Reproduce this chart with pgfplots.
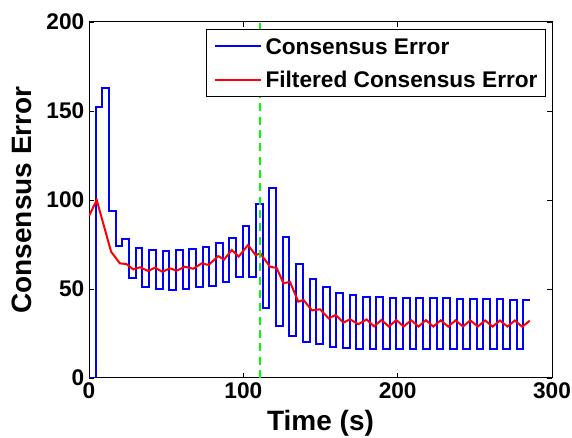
\documentclass[border=0pt]{standalone}
\usepackage{fontspec}
\setmainfont{Liberation Sans}
\usepackage{pgfplots}
\pgfplotsset{compat=1.18}
\definecolor{mblue}{RGB}{0,0,255}
\definecolor{mred}{RGB}{255,0,0}
\definecolor{mgreen}{RGB}{0,255,0}

\begin{document}
\begin{tikzpicture}
\begin{axis}[
  name=ax,
  scale only axis, width=347.25pt, height=267pt,
  xmin=0, xmax=300, ymin=0, ymax=200,
  xtick={0,100,200,300}, ytick={0,50,...,200},
  xtick pos=both, ytick pos=both,
  tick align=inside, major tick length=4pt,
  tick style={black, line width=0.6pt},
  axis line style={black, line width=0.75pt},
  /pgf/number format/assume math mode=true,
  ticklabel style={font=\fontsize{17}{17}\selectfont\bfseries},
  xlabel={Time (s)}, ylabel={Consensus Error},
  xlabel style={font=\fontsize{21}{21}\selectfont\bfseries, at={(axis description cs:0.5,-0.09)}, anchor=north, inner sep=0pt},
  ylabel style={font=\fontsize{21}{21}\selectfont\bfseries, at={(axis description cs:-0.1447,0.5)}, anchor=center, inner sep=0pt},
  legend style={at={(rel axis cs:0.987,0.98)}, anchor=north east,
    draw=black, line width=0.6pt, fill=white,
    inner xsep=6pt, inner ysep=3.5pt, row sep=6.8pt, column sep=3pt,
    font=\fontsize{17}{17}\selectfont\bfseries,
    nodes={inner xsep=0pt, inner ysep=3pt, text height=12.2pt, text depth=0pt},
    cells={anchor=west}},
  legend image code/.code={\draw[#1] (0pt,0pt) -- (34pt,0pt);},
]
% consensus error, one value per step of about 4.33 s
\addplot[const plot, mblue, line width=1.5pt] coordinates {
  (0,0)(4.33,152)(8.66,163)(12.99,94)(17.32,74)(21.65,78)(25.98,56)(30.31,73)
  (34.64,51)(38.97,72)(43.30,50)(47.63,71.5)(51.96,49.5)(56.29,72)(60.62,50)
  (64.95,72.3)(69.28,51)(73.61,73.4)(77.94,51.7)(82.27,75.7)(86.60,54)
  (90.93,78.8)(95.26,57)(99.59,85.5)(103.92,57)(108.25,97.7)(112.58,39.5)
  (116.91,107)(121.24,29.2)(125.57,79.4)(129.90,23.8)(134.23,64.2)(138.56,20.4)
  (142.89,55.6)(147.22,18.9)(151.55,51.1)(155.88,17.6)(160.21,47.9)(164.54,16.7)
  (168.87,46.6)(173.20,16.3)(177.53,45.7)(181.86,16.3)(186.19,45.5)(190.52,16.3)
  (194.85,45.2)(199.18,16.3)(203.51,45)(207.84,16.3)(212.17,45)(216.50,16.3)
  (220.83,44.8)(225.16,16.3)(229.49,44.8)(233.82,16.3)(238.15,44.6)(242.48,16.3)
  (246.81,44.5)(251.14,16.3)(255.47,44.3)(259.80,16.3)(264.13,44.2)(268.46,16.3)
  (272.79,44)(277.12,16.3)(281.45,44)(285.78,44)
};
\addlegendentry{Consensus Error}
% filtered consensus error
\addplot[mred, line width=1.5pt] coordinates {
  (0,91)(5,100)(14.3,71)(20,64.4)(24.3,64)(28.7,61)(33,62.2)(38.4,60.1)
  (42.7,62)(47.5,59.7)(52.5,61.6)(56.8,60.3)(62,62.5)(67.6,61.4)(73,64.4)
  (77.5,63.5)(83.8,68.5)(87.5,66.5)(92.5,71.9)(97,68.2)(103,74.7)(108,69)
  (111,70)(117.3,62.5)(121.6,61.8)(126,53.2)(130.2,54)(135.6,42.9)(139,43.8)
  (144.5,38)(149.7,38.6)(155.3,33.5)(159.8,35.4)(164.8,31.1)(169.1,33)
  (174.5,30.2)(179.9,32.9)(184.7,29)(189.5,32.6)(194.3,28.9)(199.1,32.6)
  (203.9,28.9)(208.7,32.5)(213.5,28.9)(218.3,32.5)(223.1,28.9)(227.9,32.4)
  (232.7,28.9)(237.5,32.4)(242.3,28.9)(247.1,32.4)(251.9,28.9)(256.7,32.3)
  (261.5,28.9)(266.3,32.3)(271.1,28.9)(275.9,32.3)(280.7,28.8)(285.6,32.2)
};
\addlegendentry{Filtered Consensus Error}
\addplot[mgreen, line width=1.5pt, dash pattern=on 6pt off 4pt, forget plot]
  coordinates {(111,0)(111,200)};
\end{axis}
\pgfresetboundingbox
\path ([xshift=-66.75pt,yshift=-44.25pt]ax.south west) rectangle ([xshift=15pt,yshift=16.5pt]ax.north east);
\end{tikzpicture}
\end{document}
